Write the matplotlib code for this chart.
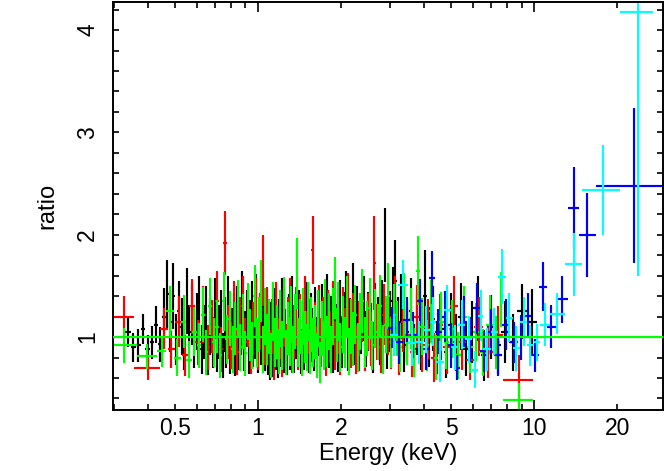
import numpy as np
import matplotlib
matplotlib.use("Agg")
import matplotlib.pyplot as plt
from matplotlib.ticker import FixedLocator, FuncFormatter, MultipleLocator

# ---------------- data (bin edges in keV, data/model ratio, 1-sigma error) ----------------
black_edges = [
    0.330, 0.345, 0.360, 0.375, 0.390, 0.405, 0.420, 0.435, 0.450, 0.462,
    0.474, 0.486, 0.498, 0.510, 0.522, 0.534, 0.546, 0.558, 0.570, 0.582,
    0.594, 0.606, 0.618, 0.630, 0.642, 0.654, 0.666, 0.678, 0.690, 0.702,
    0.714, 0.726, 0.738, 0.750, 0.762, 0.774, 0.786, 0.798, 0.810, 0.822,
    0.834, 0.846, 0.858, 0.870, 0.882, 0.894, 0.906, 0.918, 0.930, 0.942,
    0.954, 0.966, 0.978, 0.990, 1.005, 1.020, 1.035, 1.050, 1.065, 1.080,
    1.095, 1.110, 1.125, 1.140, 1.155, 1.170, 1.185, 1.200, 1.215, 1.230,
    1.245, 1.260, 1.280, 1.300, 1.320, 1.340, 1.360, 1.380, 1.400, 1.420,
    1.440, 1.460, 1.480, 1.500, 1.520, 1.540, 1.560, 1.580, 1.600, 1.620,
    1.645, 1.670, 1.695, 1.720, 1.745, 1.770, 1.795, 1.820, 1.850, 1.880,
    1.910, 1.940, 1.970, 2.000, 2.035, 2.070, 2.105, 2.140, 2.180, 2.220,
    2.260, 2.300, 2.345, 2.390, 2.435, 2.480, 2.530, 2.580, 2.630, 2.680,
    2.735, 2.790, 2.850, 2.910, 2.975, 3.040, 3.110, 3.180, 3.260, 3.340,
    3.430, 3.520, 3.620, 3.720, 3.830, 3.950, 4.080, 4.220, 4.370, 4.530,
    4.700, 4.880, 5.080, 5.300, 5.540, 5.800, 6.080, 6.400, 6.750, 7.150,
    7.600, 8.100, 8.700, 9.400, 10.200,
]
black_ratio = [
    1.05, 0.90, 0.92, 1.08, 0.88, 0.95, 1.12, 0.93, 1.20, 1.42,
    1.15, 1.40, 0.98, 1.25, 1.10, 0.92, 1.35, 1.05, 1.22, 0.95,
    1.15, 1.30, 0.88, 1.05, 1.20, 0.85, 1.10, 0.95, 1.28, 0.90,
    1.05, 1.18, 0.82, 1.12, 0.95, 1.30, 0.88, 1.02, 1.15, 0.85,
    1.22, 0.92, 1.08, 1.35, 0.90, 1.00, 1.18, 0.86, 1.10, 1.25,
    0.95, 1.05, 1.32, 0.88, 1.12, 0.98, 1.25, 0.90, 1.15, 0.85,
    0.78, 1.08, 0.82, 1.20, 0.92, 0.80, 1.10, 0.95, 1.28, 0.88,
    1.02, 0.85, 1.15, 0.92, 1.30, 0.88, 1.05, 0.95, 1.18, 0.86,
    1.10, 0.92, 1.25, 0.98, 0.88, 1.15, 1.02, 0.90, 1.20, 0.95,
    1.08, 0.85, 1.22, 1.00, 0.92, 1.30, 0.95, 1.12, 0.88, 1.18,
    1.05, 0.90, 1.25, 0.95, 1.15, 1.32, 0.92, 1.10, 1.38, 1.00,
    1.20, 0.92, 1.12, 1.28, 0.98, 1.15, 1.05, 0.90, 1.22, 1.10,
    1.00, 1.25, 1.90, 0.95, 1.15, 1.35, 1.55, 1.10, 1.30, 0.92,
    1.05, 1.25, 0.88, 1.12, 0.95, 1.40, 1.00, 1.18, 0.90, 1.08,
    0.85, 1.12, 0.95, 1.20, 0.88, 1.05, 1.28, 0.82, 1.10, 0.92,
    1.05, 0.95, 1.25, 1.15,
]
black_err = [
    0.15, 0.14, 0.16, 0.15, 0.14, 0.16, 0.18, 0.17, 0.28, 0.33,
    0.30, 0.32, 0.25, 0.30, 0.28, 0.24, 0.32, 0.26, 0.30, 0.25,
    0.28, 0.30, 0.24, 0.26, 0.30, 0.22, 0.28, 0.25, 0.30, 0.24,
    0.26, 0.28, 0.22, 0.27, 0.25, 0.30, 0.24, 0.26, 0.28, 0.23,
    0.28, 0.24, 0.26, 0.30, 0.23, 0.25, 0.28, 0.22, 0.26, 0.30,
    0.24, 0.26, 0.30, 0.23, 0.27, 0.25, 0.29, 0.23, 0.27, 0.22,
    0.20, 0.26, 0.21, 0.28, 0.24, 0.20, 0.27, 0.24, 0.30, 0.23,
    0.25, 0.22, 0.27, 0.24, 0.30, 0.23, 0.26, 0.24, 0.28, 0.22,
    0.27, 0.24, 0.29, 0.25, 0.23, 0.28, 0.26, 0.23, 0.29, 0.25,
    0.27, 0.23, 0.30, 0.26, 0.24, 0.32, 0.25, 0.28, 0.23, 0.29,
    0.27, 0.24, 0.31, 0.25, 0.29, 0.33, 0.25, 0.28, 0.34, 0.27,
    0.30, 0.25, 0.29, 0.32, 0.27, 0.29, 0.28, 0.25, 0.31, 0.29,
    0.27, 0.31, 0.36, 0.26, 0.30, 0.33, 0.40, 0.29, 0.32, 0.26,
    0.29, 0.33, 0.25, 0.30, 0.27, 0.45, 0.29, 0.32, 0.26, 0.30,
    0.25, 0.31, 0.28, 0.33, 0.26, 0.30, 0.32, 0.25, 0.31, 0.28,
    0.30, 0.28, 0.27, 0.32,
]

red_edges = [
    0.296, 0.355, 0.440, 0.470, 0.500, 0.530, 0.560, 0.590, 0.620, 0.645,
    0.670, 0.695, 0.720, 0.745, 0.770, 0.790, 0.810, 0.830, 0.850, 0.870,
    0.890, 0.910, 0.930, 0.950, 0.970, 0.990, 1.010, 1.030, 1.050, 1.070,
    1.090, 1.110, 1.130, 1.150, 1.170, 1.190, 1.210, 1.230, 1.250, 1.270,
    1.290, 1.310, 1.335, 1.360, 1.385, 1.410, 1.435, 1.460, 1.485, 1.510,
    1.535, 1.560, 1.590, 1.620, 1.650, 1.680, 1.710, 1.740, 1.775, 1.810,
    1.845, 1.880, 1.920, 1.960, 2.000, 2.045, 2.090, 2.140, 2.190, 2.240,
    2.295, 2.350, 2.410, 2.470, 2.535, 2.600, 2.670, 2.740, 2.820, 2.900,
    2.990, 3.080, 3.180, 3.290, 3.410, 3.540, 3.680, 3.840, 4.020, 4.220,
    4.440, 4.690, 4.970, 5.290, 5.650, 6.060, 6.530, 7.080, 7.700, 9.900,
]
red_ratio = [
    1.20, 0.70, 1.08, 0.88, 1.15, 0.82, 1.30, 0.95, 1.22, 0.90,
    1.10, 1.35, 0.88, 1.92, 1.05, 0.92, 1.25, 0.85, 1.12, 1.30,
    0.95, 1.18, 0.86, 1.08, 1.28, 0.92, 1.15, 1.65, 0.98, 1.20,
    0.85, 1.10, 0.78, 1.25, 0.95, 1.05, 0.82, 1.18, 0.90, 1.12,
    1.28, 0.88, 1.05, 1.20, 0.92, 1.15, 0.85, 1.30, 1.00, 1.10,
    0.90, 1.85, 1.08, 0.88, 1.22, 0.95, 1.12, 0.84, 1.18, 1.00,
    1.25, 0.92, 1.10, 0.86, 1.20, 1.02, 1.32, 0.95, 1.15, 0.88,
    1.08, 1.25, 0.92, 1.15, 0.98, 1.72, 1.05, 0.90, 1.22, 1.10,
    0.95, 1.28, 0.88, 1.15, 1.02, 0.85, 1.20, 0.92, 1.08, 0.80,
    1.12, 0.90, 1.30, 0.95, 0.78, 1.10, 0.85, 1.02, 0.58,
]
red_err = [
    0.20, 0.12, 0.20, 0.18, 0.25, 0.20, 0.27, 0.22, 0.28, 0.22,
    0.26, 0.30, 0.22, 0.31, 0.26, 0.23, 0.30, 0.22, 0.27, 0.30,
    0.24, 0.28, 0.22, 0.26, 0.30, 0.24, 0.28, 0.35, 0.25, 0.29,
    0.22, 0.27, 0.20, 0.29, 0.24, 0.26, 0.21, 0.28, 0.23, 0.27,
    0.30, 0.23, 0.26, 0.29, 0.24, 0.27, 0.22, 0.30, 0.25, 0.27,
    0.23, 0.33, 0.26, 0.23, 0.29, 0.24, 0.27, 0.22, 0.28, 0.25,
    0.30, 0.24, 0.27, 0.23, 0.29, 0.26, 0.31, 0.25, 0.28, 0.24,
    0.27, 0.30, 0.25, 0.28, 0.26, 0.46, 0.27, 0.25, 0.30, 0.28,
    0.26, 0.32, 0.25, 0.30, 0.27, 0.24, 0.31, 0.26, 0.29, 0.24,
    0.30, 0.26, 0.30, 0.27, 0.20, 0.29, 0.25, 0.28, 0.24,
]

green_edges = [
    0.290, 0.363, 0.430, 0.465, 0.495, 0.525, 0.550, 0.575, 0.600, 0.620,
    0.640, 0.660, 0.680, 0.700, 0.720, 0.740, 0.760, 0.780, 0.800, 0.818,
    0.836, 0.854, 0.872, 0.890, 0.908, 0.926, 0.944, 0.962, 0.980, 0.998,
    1.016, 1.034, 1.052, 1.070, 1.088, 1.106, 1.124, 1.142, 1.160, 1.178,
    1.196, 1.214, 1.232, 1.250, 1.270, 1.290, 1.310, 1.330, 1.350, 1.370,
    1.390, 1.410, 1.430, 1.450, 1.470, 1.490, 1.510, 1.530, 1.550, 1.570,
    1.590, 1.615, 1.640, 1.665, 1.690, 1.715, 1.740, 1.765, 1.790, 1.820,
    1.850, 1.880, 1.910, 1.940, 1.970, 2.005, 2.040, 2.075, 2.110, 2.150,
    2.190, 2.230, 2.275, 2.320, 2.365, 2.410, 2.460, 2.510, 2.565, 2.620,
    2.680, 2.740, 2.800, 2.865, 2.930, 3.000, 3.075, 3.150, 3.230, 3.320,
    3.410, 3.510, 3.620, 3.740, 3.870, 4.010, 4.160, 4.320, 4.500, 4.700,
    4.920, 5.160, 5.420, 5.700, 6.000, 6.330, 6.700, 7.100, 7.500, 7.700,
    9.900,
]
green_ratio = [
    0.92, 0.81, 0.86, 1.25, 0.80, 1.15, 0.78, 1.05, 0.92, 1.22,
    0.85, 1.30, 0.95, 1.10, 0.82, 1.35, 0.98, 1.18, 0.88, 1.08,
    1.28, 0.90, 1.15, 0.84, 1.25, 1.02, 0.92, 1.40, 0.95, 1.12,
    1.45, 0.88, 1.20, 0.98, 1.10, 0.82, 1.25, 0.95, 1.05, 0.86,
    1.18, 0.92, 1.30, 0.85, 1.08, 0.96, 1.22, 0.88, 1.15, 1.62,
    0.95, 1.10, 0.84, 1.20, 1.00, 0.90, 1.25, 0.86, 1.12, 0.95,
    1.05, 0.82, 1.18, 0.75, 1.08, 0.92, 1.28, 0.96, 1.15, 0.88,
    1.20, 1.48, 1.02, 1.25, 0.90, 1.12, 0.95, 1.30, 0.86, 1.10,
    0.98, 1.22, 0.90, 1.15, 1.35, 0.95, 1.08, 1.28, 0.92, 1.18,
    1.05, 1.30, 0.88, 1.12, 1.40, 0.95, 1.22, 1.08, 0.90, 1.32,
    1.00, 1.18, 0.85, 1.65, 1.10, 0.92, 1.25, 0.80, 1.15, 0.95,
    1.08, 0.82, 1.20, 0.90, 1.05, 0.85, 1.12, 0.95, 1.37, 0.38,
]
green_err = [
    0.17, 0.12, 0.15, 0.25, 0.18, 0.26, 0.18, 0.24, 0.22, 0.27,
    0.22, 0.28, 0.24, 0.26, 0.22, 0.29, 0.24, 0.27, 0.23, 0.26,
    0.28, 0.23, 0.27, 0.22, 0.28, 0.25, 0.23, 0.30, 0.24, 0.27,
    0.30, 0.23, 0.28, 0.25, 0.27, 0.22, 0.29, 0.24, 0.26, 0.22,
    0.28, 0.24, 0.29, 0.22, 0.26, 0.24, 0.28, 0.23, 0.27, 0.35,
    0.24, 0.27, 0.22, 0.28, 0.25, 0.23, 0.29, 0.22, 0.27, 0.24,
    0.26, 0.22, 0.28, 0.20, 0.27, 0.24, 0.29, 0.25, 0.28, 0.23,
    0.28, 0.30, 0.26, 0.29, 0.24, 0.28, 0.25, 0.30, 0.23, 0.27,
    0.26, 0.29, 0.24, 0.28, 0.31, 0.25, 0.27, 0.30, 0.24, 0.29,
    0.27, 0.31, 0.24, 0.28, 0.32, 0.25, 0.30, 0.27, 0.24, 0.31,
    0.27, 0.30, 0.24, 0.34, 0.28, 0.25, 0.31, 0.22, 0.29, 0.26,
    0.28, 0.23, 0.30, 0.25, 0.28, 0.23, 0.29, 0.26, 0.27, 0.17,
]

blue_edges = [
    2.95, 3.15, 3.35, 3.55, 3.75, 3.95, 4.15, 4.37, 4.62, 4.88,
    5.12, 5.40, 5.70, 6.02, 6.38, 6.75, 7.15, 7.65, 8.20, 8.75,
    9.20, 9.75, 10.40, 11.10, 12.00, 13.30, 14.50, 16.70, 29.50,
]
blue_ratio = [
    1.09, 0.95, 1.17, 1.02, 1.35, 0.88, 1.58, 1.05, 1.20, 0.92,
    0.70, 1.15, 0.98, 1.28, 0.86, 1.05, 0.82, 1.12, 0.95, 1.00,
    1.21, 0.82, 1.49, 1.10, 1.37, 2.26, 2.00, 2.48,
]
blue_err = [
    0.20, 0.21, 0.22, 0.22, 0.22, 0.20, 0.26, 0.22, 0.25, 0.22,
    0.12, 0.25, 0.22, 0.25, 0.20, 0.22, 0.20, 0.25, 0.20, 0.22,
    0.22, 0.16, 0.24, 0.21, 0.23, 0.40, 0.41, 0.76,
]

cyan_edges = [
    3.00, 3.22, 3.48, 3.72, 3.95, 4.18, 4.42, 4.70, 5.00, 5.30,
    5.62, 5.95, 6.25, 6.55, 6.95, 7.40, 7.90, 8.35, 8.90, 9.45,
    9.95, 10.50, 11.40, 12.90, 14.95, 20.55, 26.90,
]
cyan_ratio = [
    1.02, 1.51, 0.94, 0.95, 1.07, 1.15, 0.76, 1.26, 0.90, 1.12,
    0.98, 0.68, 1.21, 0.88, 1.05, 1.59, 1.19, 0.89, 1.15, 0.92,
    0.95, 1.12, 1.23, 1.71, 2.44, 4.18,
]
cyan_err = [
    0.21, 0.24, 0.22, 0.21, 0.23, 0.24, 0.20, 0.25, 0.22, 0.24,
    0.23, 0.18, 0.25, 0.21, 0.23, 0.27, 0.24, 0.22, 0.24, 0.20,
    0.18, 0.21, 0.20, 0.31, 0.44, 2.58,
]

model_level = 1.0
x_tick_labels = {0.5: "0.5", 1: "1", 2: "2", 5: "5", 10: "10", 20: "20"}

# ---------------- figure ----------------
plt.rcParams["font.family"] = ["Liberation Sans", "DejaVu Sans"]
fig = plt.figure(figsize=(6.64, 4.71), dpi=100)
ax = fig.add_axes([113 / 664, 61 / 471, 550 / 664, 408 / 471])

series = [
    (black_edges, black_ratio, black_err, "#000000"),
    (red_edges, red_ratio, red_err, "#ff0000"),
    (green_edges, green_ratio, green_err, "#00ff00"),
    (blue_edges, blue_ratio, blue_err, "#0000ff"),
    (cyan_edges, cyan_ratio, cyan_err, "#00ffff"),
]
for edges, ratio, err, col in series:
    e = np.asarray(edges)
    lo, hi = e[:-1], e[1:]
    xc = 0.5 * (lo + hi)
    xe = 0.5 * (hi - lo)
    ax.errorbar(xc, ratio, xerr=xe, yerr=err, fmt="none", ecolor=col,
                elinewidth=1.55, capsize=0)

ax.axhline(model_level, color="#00ff00", lw=1.6, zorder=5)

ax.set_xscale("log")
ax.set_xlim(0.298, 29.3)
ax.set_ylim(0.287, 4.274)

major_x = [1, 10]
minor_x = [0.3, 0.4, 0.5, 0.6, 0.7, 0.8, 0.9, 2, 3, 4, 5, 6, 7, 8, 9, 20, 30]
ax.xaxis.set_major_locator(FixedLocator(major_x))
ax.xaxis.set_minor_locator(FixedLocator(minor_x))


def _xlab(v, pos):
    for k, s in x_tick_labels.items():
        if abs(v - k) < 1e-6 * k:
            return s
    return ""


ax.xaxis.set_major_formatter(FuncFormatter(_xlab))
ax.xaxis.set_minor_formatter(FuncFormatter(_xlab))

ax.yaxis.set_major_locator(MultipleLocator(1))
ax.yaxis.set_minor_locator(MultipleLocator(0.2))

ax.tick_params(axis="both", which="both", direction="in", top=True, right=True,
               width=1.2, colors="black", labelsize=16.5)
ax.tick_params(axis="x", which="major", length=7.5, pad=5)
ax.tick_params(axis="x", which="minor", length=4, pad=5)
ax.tick_params(axis="y", which="both", length=4.5, pad=10)
for lab in ax.get_yticklabels():
    lab.set_rotation(90)
    lab.set_va("center")

for sp in ax.spines.values():
    sp.set_linewidth(1.4)

ax.set_xlabel("Energy (keV)", fontsize=17, labelpad=2)
ax.set_ylabel("ratio", fontsize=17, labelpad=13)

fig.savefig("out.png", dpi=100)
